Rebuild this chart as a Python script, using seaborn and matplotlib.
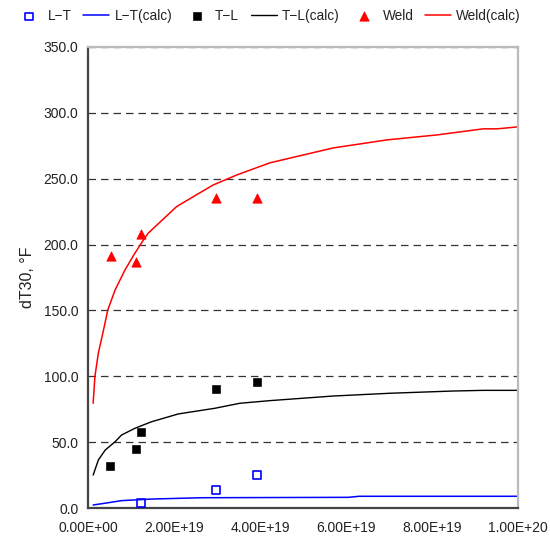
import numpy as np
import pandas as pd
import matplotlib
matplotlib.use("Agg")
import matplotlib.pyplot as plt
import seaborn as sns

# Measured points (fluence n/cm^2, dT30 in F)
lt_x = [1.23e19, 2.98e19, 3.93e19]
lt_y = [3.8, 13.7, 25.0]
tl_x = [0.51e19, 1.12e19, 1.23e19, 2.98e19, 3.93e19]
tl_y = [32.0, 45.0, 58.0, 90.0, 96.0]
weld_x = [0.53e19, 1.12e19, 1.23e19, 2.98e19, 3.93e19]
weld_y = [191.0, 187.0, 208.0, 235.0, 235.0]

# Calculated trend curves
lt_calc_x = [0.12e19, 0.47e19, 0.78e19, 1.48e19, 2.64e19, 6.05e19, 6.3e19, 1.0e20]
lt_calc_y = [2.3, 4.0, 5.6, 6.8, 7.8, 8.1, 8.9, 8.9]
tl_calc_x = [0.12e19, 0.24e19, 0.40e19, 0.63e19, 0.78e19, 1.09e19, 1.48e19, 2.10e19,
             2.95e19, 3.53e19, 4.23e19, 5.70e19, 7.02e19, 8.49e19, 9.19e19, 1.0e20]
tl_calc_y = [25.0, 36.4, 44.0, 50.3, 55.4, 60.5, 65.5, 71.4,
             75.7, 79.5, 81.5, 85.0, 87.1, 88.8, 89.3, 89.3]
weld_calc_x = [0.12e19, 0.16e19, 0.24e19, 0.36e19, 0.46e19, 0.63e19, 0.86e19, 1.09e19,
               1.29e19, 1.40e19, 2.06e19, 2.91e19, 3.46e19, 4.23e19, 5.70e19, 6.95e19,
               8.12e19, 9.19e19, 9.51e19, 1.0e20]
weld_calc_y = [79.5, 99.7, 117.5, 135.0, 150.3, 165.5, 180.7, 193.4,
               203.5, 208.6, 228.8, 245.2, 252.8, 262.0, 273.3, 279.4,
               283.2, 287.8, 287.8, 289.3]

sns.set_style("white")
plt.rcParams['font.family'] = ['Liberation Sans', 'DejaVu Sans']

fig = plt.figure(figsize=(5.5, 5.39), dpi=100)
ax = fig.add_axes([0.16, 0.0575, 0.782, 0.8555])

ax.grid(axis='y', linestyle=(0, (6, 4)), color='#333333', linewidth=0.9)
ax.set_axisbelow(True)

sns.scatterplot(x=lt_x, y=lt_y, ax=ax, marker='s', s=30, facecolor='none',
                edgecolor='blue', linewidth=1.2, label='L−T', zorder=3)
sns.lineplot(x=lt_calc_x, y=lt_calc_y, ax=ax, color='blue', linewidth=1.1,
             label='L−T(calc)', estimator=None, sort=False)
sns.scatterplot(x=tl_x, y=tl_y, ax=ax, marker='s', s=32, color='black',
                edgecolor='black', label='T−L', zorder=3)
sns.lineplot(x=tl_calc_x, y=tl_calc_y, ax=ax, color='black', linewidth=1.0,
             label='T−L(calc)', estimator=None, sort=False)
sns.scatterplot(x=weld_x, y=weld_y, ax=ax, marker='^', s=45, color='red',
                edgecolor='red', label='Weld', zorder=3)
sns.lineplot(x=weld_calc_x, y=weld_calc_y, ax=ax, color='red', linewidth=1.1,
             label='Weld(calc)', estimator=None, sort=False)

ax.set_xlim(0, 1e20)
ax.set_ylim(0, 350)
ax.set_xticks(np.arange(0, 1.01e20, 2e19))
ax.set_xticklabels([f"{v:.2E}" for v in np.arange(0, 1.01e20, 2e19)])
ax.set_yticks(np.arange(0, 351, 50))
ax.set_yticklabels([f"{v:.1f}" for v in np.arange(0, 351, 50)])
ax.tick_params(axis='both', direction='in', length=4, width=1, color='#333333',
               labelsize=10, labelcolor='#222222', pad=7)
ax.tick_params(axis='x', pad=9)
ax.set_ylabel("dT30, °F", fontsize=11.5, color='#222222', labelpad=6)
ax.set_xlabel("")

for side in ['left', 'bottom']:
    ax.spines[side].set_color('#444444')
    ax.spines[side].set_linewidth(1.6)
for side in ['top', 'right']:
    ax.spines[side].set_color('#bbbbbb')
    ax.spines[side].set_linewidth(1.6)

leg = ax.legend(loc='lower center', bbox_to_anchor=(0.42, 1.052), ncol=6, frameon=False,
                fontsize=9.8, handlelength=1.9, handletextpad=0.4, columnspacing=0.85,
                borderaxespad=0, borderpad=0)
for t in leg.get_texts():
    t.set_color('#222222')

fig.savefig("out.png", dpi=100)
